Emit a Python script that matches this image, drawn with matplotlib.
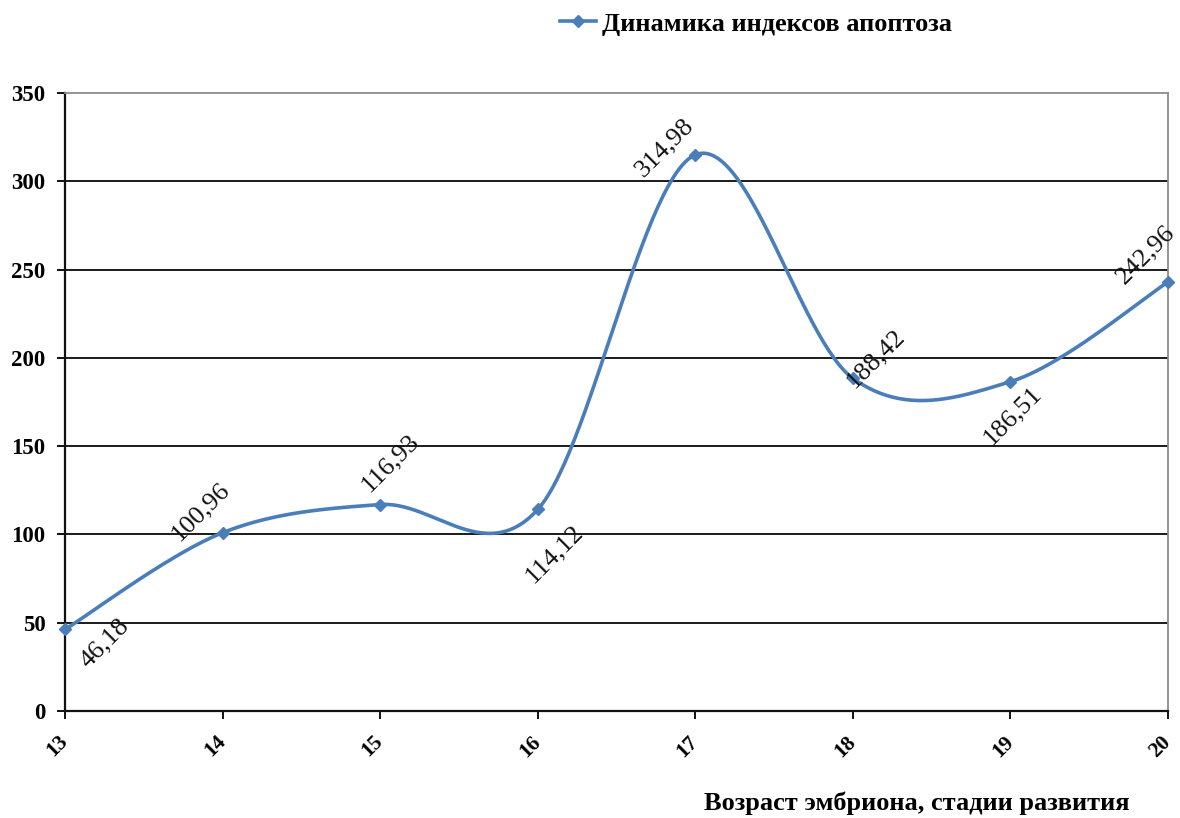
import numpy as np
import matplotlib
matplotlib.use("Agg")
import matplotlib.pyplot as plt
from matplotlib.lines import Line2D

# Data
stages = [13, 14, 15, 16, 17, 18, 19, 20]
apoptosis_index = [46.18, 100.96, 116.93, 114.12, 314.98, 188.42, 186.51, 242.96]
value_labels = ["46,18", "100,96", "116,93", "114,12", "314,98", "188,42", "186,51", "242,96"]
label_offsets_px = [(40, -14), (-22, 21), (10, 42), (17, -44), (-31, 7), (23, 20), (2, -34), (-22, 27)]

series_name = "Динамика индексов апоптоза"
x_title = "Возраст эмбриона, стадии развития"
y_ticks = [0, 50, 100, 150, 200, 250, 300, 350]

LINE_COLOR = "#4A7EBB"
SERIF = ["Liberation Serif", "DejaVu Serif"]

plt.rcParams["font.family"] = SERIF


def smooth_curve(x, y, n=60):
    """Piecewise cubic Bezier through the points (Catmull-Rom style tangents)."""
    x = np.asarray(x, float)
    y = np.asarray(y, float)
    pts = np.column_stack([x, y])
    ext = np.vstack([pts[0], pts, pts[-1]])
    out = []
    t = np.linspace(0, 1, n)[:, None]
    for i in range(len(pts) - 1):
        p0 = ext[i + 1]
        p3 = ext[i + 2]
        c1 = p0 + (ext[i + 2] - ext[i]) / 6.0
        c2 = p3 - (ext[i + 3] - ext[i + 1]) / 6.0
        seg = ((1 - t) ** 3) * p0 + 3 * ((1 - t) ** 2) * t * c1 + 3 * (1 - t) * t ** 2 * c2 + t ** 3 * p3
        out.append(seg if i == 0 else seg[1:])
    out = np.vstack(out)
    return out[:, 0], out[:, 1]


fig = plt.figure(figsize=(11.8, 8.18), dpi=100)
ax = fig.add_axes([65 / 1180, 1 - 711 / 818, (1168 - 65) / 1180, (711 - 93) / 818])

sx, sy = smooth_curve(stages, apoptosis_index)
ax.plot(sx, sy, color=LINE_COLOR, lw=2.6, solid_capstyle="round", zorder=3, clip_on=False)
ax.plot(stages, apoptosis_index, linestyle="none", marker="D", markersize=6.5,
        color=LINE_COLOR, zorder=4, clip_on=False)

ax.set_xlim(13, 20)
ax.set_ylim(0, 350)
ax.set_yticks(y_ticks)
ax.set_xticks(stages)

# horizontal gridlines
for v in y_ticks[1:-1]:
    ax.axhline(v, color="#1a1a1a", lw=1.4, zorder=1)

for side in ("top", "right"):
    ax.spines[side].set_color("#8c8c8c")
    ax.spines[side].set_linewidth(1.3)
for side in ("left", "bottom"):
    ax.spines[side].set_color("#111111")
    ax.spines[side].set_linewidth(1.6)

ax.tick_params(axis="both", direction="out", length=6, width=1.4, color="#111111")
ax.tick_params(axis="y", pad=8)

for lbl in ax.get_yticklabels():
    lbl.set_fontsize(16.5)
    lbl.set_fontweight("bold")

ax.set_xticklabels([str(s) for s in stages], fontsize=15.5, fontweight="bold",
                   rotation=45, ha="right", va="center", rotation_mode="anchor")
ax.tick_params(axis="x", pad=14)

# value labels
for xv, yv, txt, (dx, dy) in zip(stages, apoptosis_index, value_labels, label_offsets_px):
    ax.annotate(txt, (xv, yv), xytext=(dx * 72 / 100, dy * 72 / 100), textcoords="offset points",
                rotation=45, rotation_mode="anchor", ha="center", va="center",
                fontsize=19, color="#111111", zorder=5, annotation_clip=False)

# legend
handle = Line2D([], [], color=LINE_COLOR, lw=2.6, marker="D", markersize=6.5)
leg = fig.legend([handle], [series_name], loc="center", bbox_to_anchor=(756 / 1180, 1 - 24 / 818),
                 frameon=False, handlelength=1.35, handletextpad=0.25,
                 prop={"family": SERIF, "weight": "bold", "size": 19})

fig.text(1130 / 1180, 1 - 803 / 818, x_title, ha="right", va="center",
         fontsize=19, fontweight="bold")

fig.savefig("out.png", dpi=100, facecolor="white")
